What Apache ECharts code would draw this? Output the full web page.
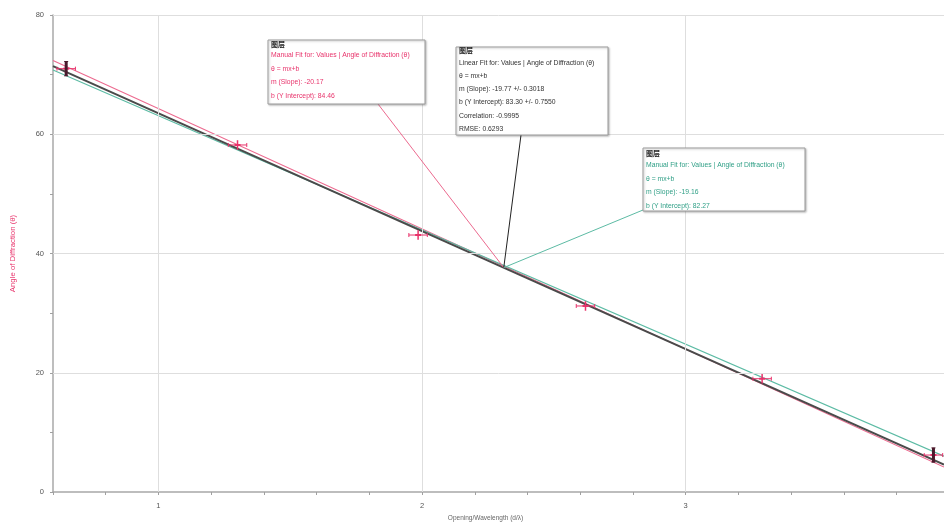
<!DOCTYPE html>
<html>
<head>
<meta charset="utf-8">
<script src="https://cdn.jsdelivr.net/npm/echarts@6/dist/echarts.min.js"></script>
<style>
  html, body { margin: 0; padding: 0; background: #ffffff; }
  #chart { width: 944px; height: 522px; }
</style>
</head>
<body>
<div id="chart"></div>
<script>
// Measured points: opening / wavelength ratio vs. angle of diffraction
const openingRatio = [0.65, 1.30, 1.985, 2.62, 3.29, 3.94];
const diffractionAngle = [71.0, 58.2, 43.1, 31.2, 19.0, 6.2];
const ratioError = [0.035, 0.035, 0.035, 0.035, 0.035, 0.035];
const angleError = [1.2, 0.8, 0.8, 0.8, 0.8, 1.2];

// Fits: manual (red), least-squares (black), manual (green)
const fitSlopes = [-20.17, -19.77, -19.16];
const fitIntercepts = [84.46, 83.30, 82.27];
const fitSlopeErr = 0.3018;
const fitInterceptErr = 0.7550;
const fitCorrelation = -0.9995;
const fitRmse = 0.6293;

// Axis ranges and labelled ticks
const xRange = [0.6, 3.98];
const yRange = [0, 80];
const xLabelled = [1, 2, 3];
const yLabelled = [0, 20, 40, 60, 80];

const RED = '#e8336b';
const RED_LINE = '#ec6a8f';
const GREEN = '#2f9f86';
const GREEN_LINE = '#5cbba4';

const chart = echarts.init(document.getElementById('chart'));

function fitLine(i) {
  return xRange.map(x => [x, fitSlopes[i] * x + fitIntercepts[i]]);
}

const isInt = v => Math.abs(v - Math.round(v)) < 1e-6;
const DARK_BARS = new Set([0, openingRatio.length - 1]);

chart.setOption({
  animation: false,
  backgroundColor: '#ffffff',
  grid: { left: 53, right: 0, top: 15, bottom: 30, containLabel: false, outerBoundsMode: 'none' },
  xAxis: {
    type: 'value', min: xRange[0], max: xRange[1], interval: 0.2,
    name: 'Opening/Wavelength (d/λ)', nameLocation: 'middle', nameGap: 20,
    nameTextStyle: { color: '#666', fontSize: 6.5, fontFamily: 'Liberation Sans', padding: [0, 26, 0, 0] },
    axisLine: { lineStyle: { color: '#a8a8a8', width: 1.5 } },
    axisTick: { show: true, length: 3, lineStyle: { color: '#a0a0a0' } },
    axisLabel: {
      color: '#555', fontSize: 7.5, fontFamily: 'Liberation Sans', margin: 10,
      formatter: v => (isInt(v) && xLabelled.includes(Math.round(v))) ? String(Math.round(v)) : ''
    },
    splitLine: { show: false }
  },
  yAxis: {
    type: 'value', min: yRange[0], max: yRange[1], interval: 10,
    name: 'Angle of Diffraction (θ)', nameLocation: 'middle', nameGap: 36, nameRotate: 90,
    nameTextStyle: { color: RED, fontSize: 7.8, fontFamily: 'Liberation Sans' },
    axisLine: { show: true, lineStyle: { color: '#a8a8a8', width: 1.5 } },
    axisTick: { show: true, length: 3, lineStyle: { color: '#a0a0a0' } },
    axisLabel: {
      color: '#555', fontSize: 7.5, fontFamily: 'Liberation Sans', margin: 9,
      formatter: v => yLabelled.includes(v) ? String(v) : ''
    },
    splitLine: { show: false }
  },
  series: [
    {
      // light grid at the labelled values
      type: 'line', data: [], z: 0, silent: true,
      markLine: {
        silent: true, symbol: 'none', label: { show: false },
        lineStyle: { color: '#dedede', width: 1, type: 'solid' },
        data: xLabelled.map(v => ({ xAxis: v })).concat(yLabelled.filter(v => v > 0).map(v => ({ yAxis: v })))
      }
    },
    {
      name: 'Manual Fit A', type: 'line', data: fitLine(0), showSymbol: false, z: 3,
      lineStyle: { color: RED_LINE, width: 1.1 }
    },
    {
      name: 'Manual Fit B', type: 'line', data: fitLine(2), showSymbol: false, z: 3,
      lineStyle: { color: GREEN_LINE, width: 1.1 }
    },
    {
      name: 'Linear Fit', type: 'line', data: fitLine(1), showSymbol: false, z: 4,
      lineStyle: { color: '#4a4a4a', width: 2 }
    },
    {
      name: 'Values', type: 'custom', z: 5,
      data: openingRatio.map((x, i) => [x, diffractionAngle[i], ratioError[i], angleError[i], i]),
      renderItem: (params, api) => {
        const x = api.value(0), y = api.value(1), ex = api.value(2), ey = api.value(3), idx = api.value(4);
        const c = api.coord([x, y]);
        const l = api.coord([x - ex, y]), r = api.coord([x + ex, y]);
        const t = api.coord([x, y + ey]), b = api.coord([x, y - ey]);
        const col = RED;
        const kids = [
          { type: 'line', shape: { x1: l[0], y1: c[1], x2: r[0], y2: c[1] }, style: { stroke: col, lineWidth: 1 } },
          { type: 'line', shape: { x1: l[0], y1: c[1] - 2, x2: l[0], y2: c[1] + 2 }, style: { stroke: col, lineWidth: 1 } },
          { type: 'line', shape: { x1: r[0], y1: c[1] - 2, x2: r[0], y2: c[1] + 2 }, style: { stroke: col, lineWidth: 1 } },
          { type: 'line', shape: { x1: c[0], y1: t[1], x2: c[0], y2: b[1] }, style: { stroke: col, lineWidth: 1.5 } },
          { type: 'line', shape: { x1: c[0] - 3, y1: c[1], x2: c[0] + 3, y2: c[1] }, style: { stroke: col, lineWidth: 2 } }
        ];
        if (DARK_BARS.has(idx)) {
          kids.push({ type: 'line', shape: { x1: c[0], y1: t[1], x2: c[0], y2: b[1] }, style: { stroke: '#4a1a2c', lineWidth: 3 } });
          kids.push({ type: 'line', shape: { x1: c[0] - 2, y1: t[1], x2: c[0] + 2, y2: t[1] }, style: { stroke: '#4a1a2c', lineWidth: 1 } });
          kids.push({ type: 'line', shape: { x1: c[0] - 2, y1: b[1], x2: c[0] + 2, y2: b[1] }, style: { stroke: '#4a1a2c', lineWidth: 1 } });
        }
        return { type: 'group', children: kids };
      }
    }
  ]
});

// Fit annotation boxes with leader lines to the linear fit
const anchorX = 2.31;
const anchor = chart.convertToPixel({ xAxisIndex: 0, yAxisIndex: 0 },
  [anchorX, fitSlopes[1] * anchorX + fitIntercepts[1]]);

function box(x, y, w, h, color, lines, ys) {
  const els = [{
    type: 'rect', shape: { x: x, y: y, width: w, height: h },
    style: { fill: '#ffffff', stroke: '#9c9c9c', lineWidth: 1, shadowBlur: 2, shadowColor: 'rgba(0,0,0,0.25)', shadowOffsetX: 1, shadowOffsetY: 1 },
    z: 10
  }, {
    type: 'text', x: x + 3, y: ys[0], z: 11,
    style: { text: '图层', fill: '#222', font: 'bold 7px "Noto Sans CJK SC"', textVerticalAlign: 'middle' }
  }];
  lines.forEach((s, i) => {
    els.push({
      type: 'text', x: x + 3, y: ys[i + 1], z: 11,
      style: { text: s, fill: color, font: '6.8px "Liberation Sans"', textVerticalAlign: 'middle' }
    });
  });
  return els;
}

const fmt2 = v => v.toFixed(2);
const redLines = [
  'Manual Fit for: Values | Angle of Diffraction (θ)',
  'θ = mx+b',
  'm (Slope): ' + fmt2(fitSlopes[0]),
  'b (Y Intercept): ' + fmt2(fitIntercepts[0])
];
const blackLines = [
  'Linear Fit for: Values | Angle of Diffraction (θ)',
  'θ = mx+b',
  'm (Slope): ' + fmt2(fitSlopes[1]) + ' +/- ' + fitSlopeErr.toFixed(4),
  'b (Y Intercept): ' + fmt2(fitIntercepts[1]) + ' +/- ' + fitInterceptErr.toFixed(4),
  'Correlation: ' + fitCorrelation.toFixed(4),
  'RMSE: ' + fitRmse.toFixed(4)
];
const greenLines = [
  'Manual Fit for: Values | Angle of Diffraction (θ)',
  'θ = mx+b',
  'm (Slope): ' + fmt2(fitSlopes[2]),
  'b (Y Intercept): ' + fmt2(fitIntercepts[2])
];

const leader = (x, y, color) => ({
  type: 'line', z: 9,
  shape: { x1: x, y1: y, x2: anchor[0], y2: anchor[1] },
  style: { stroke: color, lineWidth: 1 }
});

chart.setOption({
  graphic: [
    leader(378, 104, RED_LINE),
    leader(521, 135, '#222'),
    leader(643, 210, GREEN_LINE)
  ]
    .concat(box(268, 40, 157, 64, RED, redLines, [44.5, 55.5, 69, 82.5, 96]))
    .concat(box(456, 47, 152, 88, '#333', blackLines, [50.5, 63, 76, 89.5, 102.5, 116, 129]))
    .concat(box(643, 148, 162, 63, GREEN, greenLines, [153.5, 165.5, 179, 192.5, 206]))
});
</script>
</body>
</html>
